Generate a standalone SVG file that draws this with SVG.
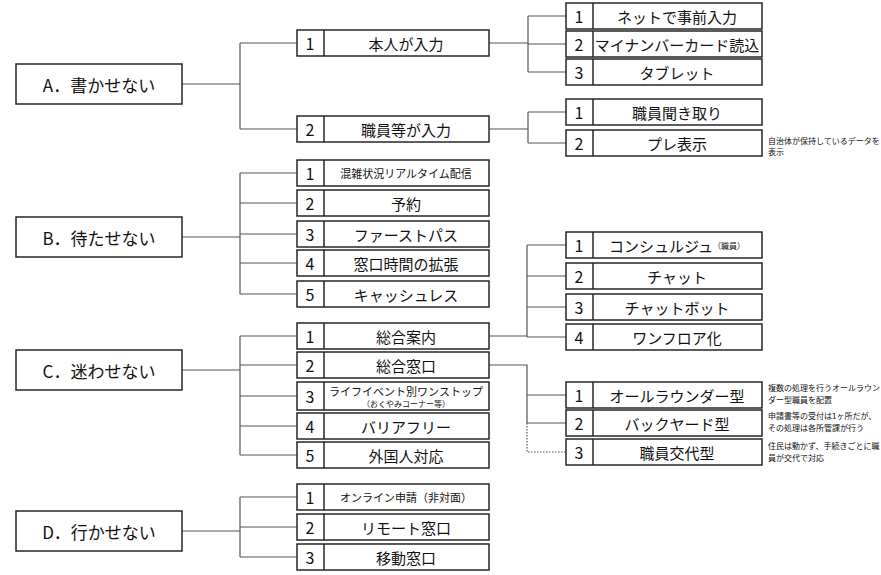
<svg xmlns="http://www.w3.org/2000/svg" width="881" height="575" viewBox="0 0 881 575">
<style>
rect{fill:#fff;stroke:#262626;stroke-width:1.5}
line,path{stroke:#555;stroke-width:1.2;fill:none}
text{font-family:"Noto Sans CJK JP","Liberation Sans",sans-serif;fill:#111;dominant-baseline:central;text-anchor:middle;font-weight:400}
.big{font-size:17px}.m{font-size:15px}.d{font-size:16px}.s{font-size:11px}.xs{font-size:8px}
.n{font-size:8px;text-anchor:start}
</style>
<rect x="0" y="0" width="881" height="575" style="fill:#fff;stroke:none"/>
<defs>
<g id="item"><rect x="0" y="0" width="192" height="26"/><line x1="27" y1="0" x2="27" y2="26" style="stroke:#262626;stroke-width:1.5"/></g>
<g id="itemr"><rect x="0" y="0" width="196" height="26"/><line x1="27" y1="0" x2="27" y2="26" style="stroke:#262626;stroke-width:1.5"/></g>
</defs>
<g id="connectors">
<path d="M182 84H240M240 43V129M240 43H297M240 129H297"/>
<path d="M489 43H528M528 16V72M528 16H566M528 44H566M528 72H566"/>
<path d="M489 129H528M528 112V143M528 112H566M528 143H566"/>
<path d="M182 237H240M240 173V294M240 173H297M240 203H297M240 234H297M240 263H297M240 294H297"/>
<path d="M182 370H240M240 336V455M240 336H297M240 365H297M240 396H297M240 426H297M240 455H297"/>
<path d="M489 336H527M527 245V337M527 245H566M527 276H566M527 307H566M527 337H566"/>
<path d="M489 365H527V423M527 395H566M527 423H566"/>
<path d="M527 423V452H566" style="stroke-dasharray:1.5 1.5"/>
<path d="M182 531H240M240 497V557M240 497H297M240 527H297M240 557H297"/>
</g>
<g id="A"><rect x="16" y="64" width="166" height="40"/><text class="big" x="99" y="84">A．書かせない</text></g>
<g id="B"><rect x="16" y="217" width="166" height="40"/><text class="big" x="99" y="237">B．待たせない</text></g>
<g id="C"><rect x="16" y="350" width="166" height="40"/><text class="big" x="99" y="370">C．迷わせない</text></g>
<g id="D"><rect x="16" y="511" width="166" height="40"/><text class="big" x="99" y="531">D．行かせない</text></g>
<g id="A1"><use href="#item" x="297" y="30"/><text class="d" x="310" y="43">1</text><text class="m" x="406" y="43">本人が入力</text></g>
<g id="A2"><use href="#item" x="297" y="116"/><text class="d" x="310" y="129">2</text><text class="m" x="406" y="129">職員等が入力</text></g>
<g id="A11"><use href="#itemr" x="566" y="3"/><text class="d" x="579" y="16">1</text><text class="m" x="677" y="16">ネットで事前入力</text></g>
<g id="A12"><use href="#itemr" x="566" y="31"/><text class="d" x="579" y="44">2</text><text class="m" x="677" y="44">マイナンバーカード読込</text></g>
<g id="A13"><use href="#itemr" x="566" y="59"/><text class="d" x="579" y="72">3</text><text class="m" x="677" y="72">タブレット</text></g>
<g id="A21"><use href="#itemr" x="566" y="99"/><text class="d" x="579" y="112">1</text><text class="m" x="677" y="112">職員聞き取り</text></g>
<g id="A22"><use href="#itemr" x="566" y="130"/><text class="d" x="579" y="143">2</text><text class="m" x="677" y="143">プレ表示</text>
<text class="n" x="768" y="140">自治体が保持しているデータを</text><text class="n" x="768" y="151">表示</text></g>
<g id="B1"><use href="#item" x="297" y="160"/><text class="d" x="310" y="173">1</text><text class="s" x="406" y="173">混雑状況リアルタイム配信</text></g>
<g id="B2"><use href="#item" x="297" y="190"/><text class="d" x="310" y="203">2</text><text class="m" x="406" y="203">予約</text></g>
<g id="B3"><use href="#item" x="297" y="221"/><text class="d" x="310" y="234">3</text><text class="m" x="406" y="234">ファーストパス</text></g>
<g id="B4"><use href="#item" x="297" y="250"/><text class="d" x="310" y="263">4</text><text class="m" x="406" y="263">窓口時間の拡張</text></g>
<g id="B5"><use href="#item" x="297" y="281"/><text class="d" x="310" y="294">5</text><text class="m" x="406" y="294">キャッシュレス</text></g>
<g id="C1"><use href="#item" x="297" y="323"/><text class="d" x="310" y="336">1</text><text class="m" x="406" y="336">総合案内</text></g>
<g id="C2"><use href="#item" x="297" y="352"/><text class="d" x="310" y="365">2</text><text class="m" x="406" y="365">総合窓口</text></g>
<g id="C3"><rect x="297" y="382" width="192" height="28"/><line x1="324" y1="382" x2="324" y2="410" style="stroke:#262626;stroke-width:1.5"/><text class="d" x="310" y="396">3</text><text class="s" x="406" y="391">ライフイベント別ワンストップ</text><text class="xs" x="406" y="403">（おくやみコーナー等）</text></g>
<g id="C4"><use href="#item" x="297" y="413"/><text class="d" x="310" y="426">4</text><text class="m" x="406" y="426">バリアフリー</text></g>
<g id="C5"><use href="#item" x="297" y="442"/><text class="d" x="310" y="455">5</text><text class="m" x="406" y="455">外国人対応</text></g>
<g id="C11"><use href="#itemr" x="566" y="232"/><text class="d" x="579" y="245">1</text><text class="m" x="677" y="245">コンシュルジュ<tspan class="xs">（職員）</tspan></text></g>
<g id="C12"><use href="#itemr" x="566" y="263"/><text class="d" x="579" y="276">2</text><text class="m" x="677" y="276">チャット</text></g>
<g id="C13"><use href="#itemr" x="566" y="294"/><text class="d" x="579" y="307">3</text><text class="m" x="677" y="307">チャットボット</text></g>
<g id="C14"><use href="#itemr" x="566" y="324"/><text class="d" x="579" y="337">4</text><text class="m" x="677" y="337">ワンフロア化</text></g>
<g id="C21"><use href="#itemr" x="566" y="382"/><text class="d" x="579" y="395">1</text><text class="m" x="677" y="395">オールラウンダー型</text>
<text class="n" x="768" y="387">複数の処理を行うオールラウン</text><text class="n" x="768" y="399">ダー型職員を配置</text></g>
<g id="C22"><use href="#itemr" x="566" y="410"/><text class="d" x="579" y="423">2</text><text class="m" x="677" y="423">バックヤード型</text>
<text class="n" x="768" y="415">申請書等の受付は1ヶ所だが、</text><text class="n" x="768" y="427">その処理は各所管課が行う</text></g>
<g id="C23"><use href="#itemr" x="566" y="439"/><text class="d" x="579" y="452">3</text><text class="m" x="677" y="452">職員交代型</text>
<text class="n" x="768" y="445">住民は動かず、手続きごとに職</text><text class="n" x="768" y="457">員が交代で対応</text></g>
<g id="D1"><use href="#item" x="297" y="484"/><text class="d" x="310" y="497">1</text><text class="s" x="406" y="497">オンライン申請（非対面）</text></g>
<g id="D2"><use href="#item" x="297" y="514"/><text class="d" x="310" y="527">2</text><text class="m" x="406" y="527">リモート窓口</text></g>
<g id="D3"><use href="#item" x="297" y="544"/><text class="d" x="310" y="557">3</text><text class="m" x="406" y="557">移動窓口</text></g>
</svg>
